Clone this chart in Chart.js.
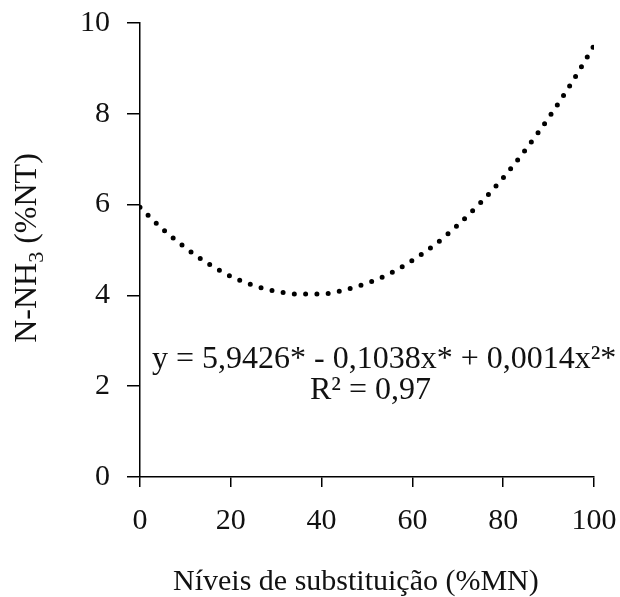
<!DOCTYPE html>
<html>
<head>
<meta charset="utf-8">
<script src="https://cdn.jsdelivr.net/npm/chart.js@4.4.1/dist/chart.umd.min.js"></script>
<style>
  html, body { margin: 0; padding: 0; background: #fff; }
  #wrap { width: 620px; height: 597px; }
</style>
</head>
<body>
<div id="wrap"><canvas id="nh3Chart" width="620" height="597"></canvas></div>
<script>
// N-NH3 vs replacement level
const levels = [0, 5, 10, 15, 20, 25, 30, 35, 40, 45, 50, 55, 60, 65, 70, 75, 80, 85, 90, 95, 100];
const nh3 = [5.94, 5.46, 5.05, 4.70, 4.42, 4.22, 4.09, 4.03, 4.03, 4.12, 4.27, 4.48, 4.77, 5.12, 5.55, 6.04, 6.59, 7.22, 7.91, 8.67, 9.50];
const xTicks = [0, 20, 40, 60, 80, 100];
const yTicks = [0, 2, 4, 6, 8, 10];
const xTitle = 'Níveis de substituição (%MN)';
const equation = 'y = 5,9426* - 0,1038x* + 0,0014x²*';
const rSquared = 'R² = 0,97';

const FONT = 'Liberation Serif, Times New Roman, serif';
const INK = '#111';

// keep the plot box where the reference has it
function noPad(s) {
  s.paddingTop = 0; s.paddingBottom = 0; s.paddingLeft = 0; s.paddingRight = 0;
}

// axis titles drawn by hand (the y one needs a subscript)
const titlesPlugin = {
  id: 'titles',
  afterDraw(chart) {
    const { ctx, chartArea } = chart;
    const cy = (chartArea.top + chartArea.bottom) / 2;
    ctx.save();
    ctx.fillStyle = INK;

    ctx.font = '30px ' + FONT;
    ctx.textAlign = 'left';
    ctx.textBaseline = 'alphabetic';
    ctx.fillText(xTitle, 173, 590);

    const big = '32px ' + FONT, small = '22px ' + FONT;
    ctx.translate(36, cy - 2);
    ctx.rotate(-Math.PI / 2);
    const a = 'N-NH', b = ' (%NT)';
    ctx.font = small;
    const wSub = ctx.measureText('3').width;
    ctx.font = big;
    const wa = ctx.measureText(a).width, wb = ctx.measureText(b).width;
    let x = -(wa + wSub + wb) / 2;
    ctx.fillText(a, x, 0);
    x += wa;
    ctx.font = small;
    ctx.fillText('3', x, 7);
    x += wSub;
    ctx.font = big;
    ctx.fillText(b, x, 0);
    ctx.restore();
  }
};

// regression equation text
const equationPlugin = {
  id: 'equation',
  afterDraw(chart) {
    const { ctx, chartArea } = chart;
    ctx.save();
    ctx.fillStyle = INK;
    ctx.font = '32px ' + FONT;
    ctx.textBaseline = 'alphabetic';
    ctx.textAlign = 'left';
    ctx.fillText(equation, chartArea.left + 12, 368);
    ctx.textAlign = 'right';
    ctx.fillText(rSquared, 431, 399);
    ctx.restore();
  }
};

new Chart(document.getElementById('nh3Chart'), {
  type: 'line',
  data: {
    datasets: [{
      data: levels.map((v, i) => ({ x: v, y: nh3[i] })),
      borderColor: '#000',
      borderWidth: 5,
      borderDash: [0, 11.3],
      borderCapStyle: 'round',
      pointRadius: 0,
      cubicInterpolationMode: 'monotone',
      fill: false
    }]
  },
  options: {
    responsive: false,
    animation: false,
    devicePixelRatio: 1,
    layout: { autoPadding: false, padding: { top: 23, right: 26, left: 0, bottom: 0 } },
    plugins: {
      legend: { display: false },
      tooltip: { enabled: false }
    },
    scales: {
      x: {
        type: 'linear',
        min: 0,
        max: 100,
        afterBuildTicks: (s) => { s.ticks = xTicks.map(v => ({ value: v })); },
        afterFit: (s) => { s.height = 120; noPad(s); },
        ticks: { font: { family: FONT, size: 30 }, color: INK, padding: 16, maxRotation: 0 },
        grid: { drawOnChartArea: false, drawTicks: true, tickLength: 10, color: '#000', lineWidth: 1.5 },
        border: { display: true, color: '#000', width: 1.5 }
      },
      y: {
        min: 0,
        max: 10,
        afterBuildTicks: (s) => { s.ticks = yTicks.map(v => ({ value: v })); },
        afterFit: (s) => { s.width = 140; noPad(s); },
        ticks: { font: { family: FONT, size: 30 }, color: INK, padding: 17 },
        grid: { drawOnChartArea: false, drawTicks: true, tickLength: 13, color: '#000', lineWidth: 1.5 },
        border: { display: true, color: '#000', width: 1.5 }
      }
    }
  },
  plugins: [titlesPlugin, equationPlugin]
});
</script>
</body>
</html>
